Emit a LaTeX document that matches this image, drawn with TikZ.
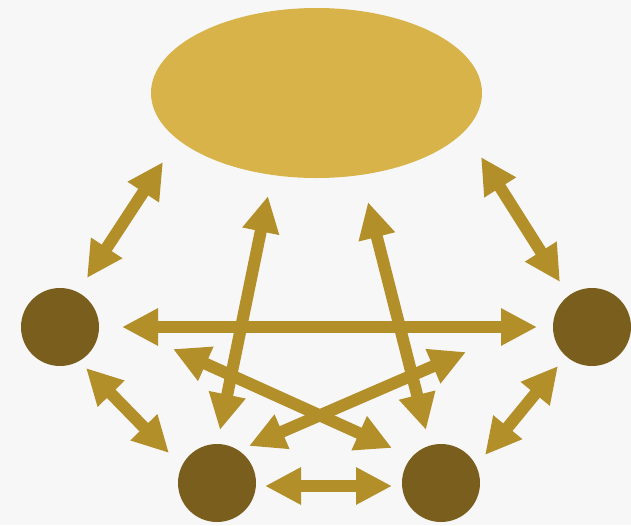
\documentclass[tikz,border=0pt]{standalone}
\usetikzlibrary{arrows.meta,shapes.geometric}
\definecolor{bgc}{HTML}{F7F7F7}
\definecolor{ellc}{HTML}{D8B34A}
\definecolor{dotc}{HTML}{7A5E1E}
\definecolor{arrc}{HTML}{B38F2A}
\tikzset{
  bigell/.style={ellipse,fill=ellc,draw=none,minimum width=331pt,minimum height=170pt,inner sep=0pt},
  dot/.style={circle,fill=dotc,draw=none,minimum size=78pt,inner sep=0pt},
  link/.style={draw=arrc,line width=12pt,{Triangle[width=35pt,length=36pt]}-{Triangle[width=35pt,length=36pt]}}
}
\begin{document}
\begin{tikzpicture}[x=1pt,y=-1pt]
\fill[bgc] (0,0) rectangle (631,525);
\useasboundingbox (0,0) rectangle (631,525);
\node[bigell] (E) at (316.5,93) {};
\node[dot] (L) at (60,327) {};
\node[dot] (R) at (592,327) {};
\node[dot] (BL) at (217,483) {};
\node[dot] (BR) at (441,483) {};
% arrow end points
\coordinate (a1s) at (163,162); \coordinate (a1e) at (87,278);
\coordinate (a2s) at (481,157); \coordinate (a2e) at (560,282);
\coordinate (a3s) at (268,196); \coordinate (a3e) at (220,430);
\coordinate (a4s) at (368,202); \coordinate (a4e) at (426,430);
\coordinate (a5s) at (122,327); \coordinate (a5e) at (537,327);
\coordinate (a6s) at (173,349); \coordinate (a6e) at (392,448);
\coordinate (a7s) at (466,352); \coordinate (a7e) at (249,446);
\coordinate (a8s) at (86,368);  \coordinate (a8e) at (169,453);
\coordinate (a9s) at (558,366); \coordinate (a9e) at (485,455);
\coordinate (a10s) at (265,486); \coordinate (a10e) at (392,486);
\draw[link] (a1s) -- (a1e);
\draw[link] (a2s) -- (a2e);
\draw[link] (a5s) -- (a5e);
\draw[link] (a3s) -- (a3e);
\draw[link] (a4s) -- (a4e);
\draw[link] (a6s) -- (a6e);
\draw[link] (a7s) -- (a7e);
\draw[link] (a8s) -- (a8e);
\draw[link] (a9s) -- (a9e);
\draw[link] (a10s) -- (a10e);
\end{tikzpicture}
\end{document}
